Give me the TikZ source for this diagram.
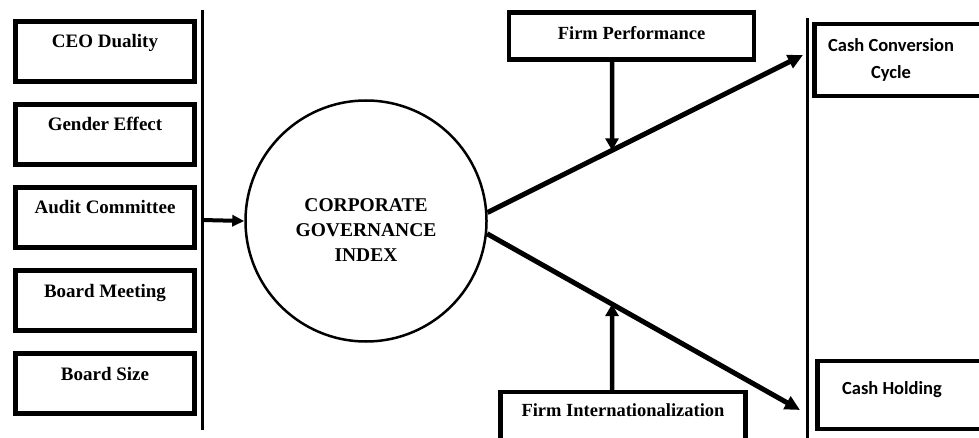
\documentclass[tikz,border=0pt]{standalone}
\usepackage{fontspec}
\setmainfont{Liberation Serif}
\newfontfamily\cashfont{Carlito}
\usetikzlibrary{arrows.meta}

\tikzset{
  factor/.style={rectangle, draw, line width=4.5pt, inner sep=0pt,
    minimum width=179pt, text height=26.5pt, text depth=33.5pt,
    font=\bfseries\fontsize{19}{22}\selectfont},
  moderator/.style={rectangle, draw, line width=4.5pt, inner sep=0pt,
    minimum width=245pt, font=\bfseries\fontsize{18.5}{22}\selectfont},
  outcome/.style={rectangle, inner sep=0pt, align=center,
    font=\cashfont\bfseries\fontsize{18.5}{27}\selectfont},
  outbox/.style={line width=4.5pt},
  index/.style={circle, draw, line width=2.5pt, minimum size=241pt, inner sep=0pt},
  indextext/.style={align=center, inner sep=0pt, font=\bfseries\fontsize{19.5}{25}\selectfont},
  bar/.style={line width=3pt},
  link/.style={line width=5pt, -{Triangle[length=15pt,width=14pt]}},
  feed/.style={line width=4.5pt, -{Triangle[length=12pt,width=13pt]}},
}

\begin{document}
\begin{tikzpicture}[x=1pt, y=-1pt]
\useasboundingbox (0,0) rectangle (979,438);

% Governance factors
\node[factor] (ceo) at (105,51.5) {CEO Duality};
\node[factor] (gender) at (105,134.5) {Gender Effect};
\node[factor] (audit) at (105,217.5) {Audit Committee};
\node[factor] (meeting) at (105,300.5) {Board Meeting};
\node[factor] (size) at (105,383.5) {Board Size};

% Bars
\coordinate (lbar top) at (202,10);
\coordinate (lbar bot) at (202,430);
\coordinate (rbar top) at (807,18);
\coordinate (rbar bot) at (807,440);
\draw[bar] (lbar top) -- (lbar bot);
\draw[bar] (rbar top) -- (rbar bot);

% Index
\node[index] (cgi) at (366,221) {};
\node[indextext] (cgi text) at ([yshift=-9pt]cgi.center) {CORPORATE\\GOVERNANCE\\INDEX};
\coordinate (lbar mid) at (202,220);
\draw[line width=4pt, -{Triangle[length=12pt,width=11pt]}] (lbar mid) -- (cgi.west);

% Moderators
\node[moderator, text height=27pt, text depth=20pt] (perf) at (631.5,36) {Firm Performance};
\node[moderator, text height=24pt, text depth=36pt] (intl) at (623,422) {Firm Internationalization};

% Outcomes
\node[outcome, minimum width=153pt, minimum height=72pt] (ccc) at (891,60) {Cash Conversion\\Cycle};
\node[outcome, minimum width=149pt, text height=33pt, text depth=35pt] (hold) at (892,395) {Cash Holding};
\draw[outbox] ([xshift=60pt]ccc.north east) -- (ccc.north west) -- (ccc.south west) -- ([xshift=60pt]ccc.south east);
\draw[outbox] ([xshift=60pt]hold.north east) -- (hold.north west) -- (hold.south west) -- ([xshift=60pt]hold.south east);

% Paths
\coordinate (up) at (803,55);
\coordinate (down) at (800,410);
\draw[link] (cgi.4) -- (up);
\draw[link] (cgi.-6) -- (down);

% Moderating effects
\coordinate (perf foot) at ([xshift=-19.5pt]perf.south);
\coordinate (perf head) at ([xshift=-19.5pt]perf.north);
\coordinate (intl foot) at ([xshift=-11pt,yshift=-4pt]intl.north);
\coordinate (intl base) at ([xshift=-11pt]intl.south);
\draw[feed] (perf foot) -- (intersection of perf foot--perf head and cgi.4--up);
\draw[feed] (intl foot) -- (intersection of intl foot--intl base and cgi.-6--down);
\end{tikzpicture}
\end{document}
